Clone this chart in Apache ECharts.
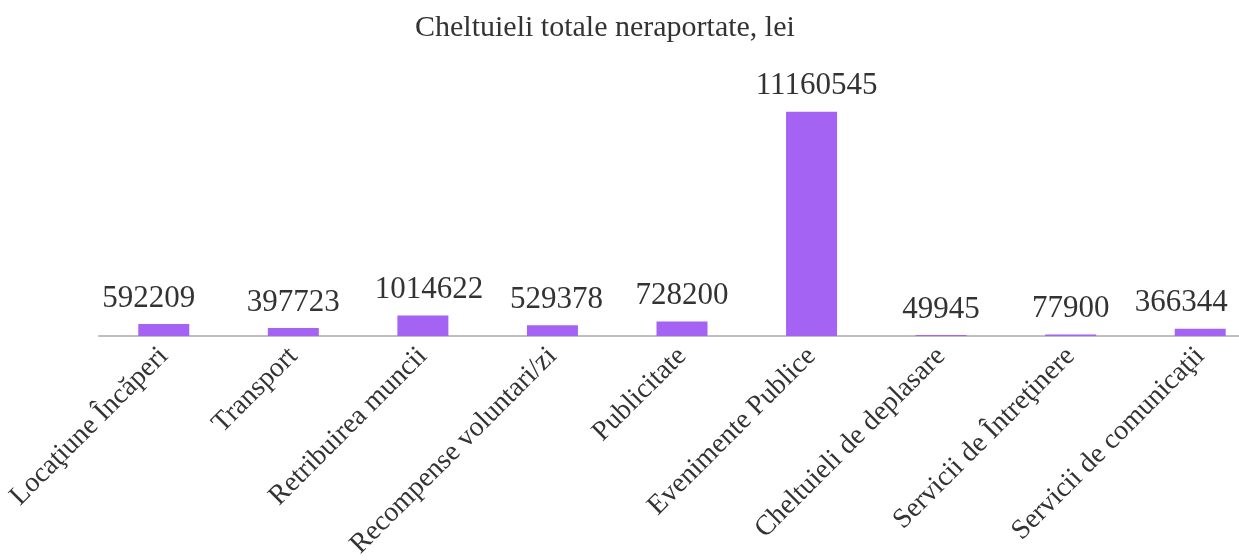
<!DOCTYPE html>
<html><head><meta charset="utf-8">
<script src="https://cdn.jsdelivr.net/npm/echarts@6/dist/echarts.min.js"></script>
<style>html,body{margin:0;padding:0;background:#fff}#c{width:1239px;height:560px}</style>
</head><body><div id="c"></div>
<script>
const title = 'Cheltuieli totale neraportate, lei';
const categories = ['Locaţiune Încăperi','Transport','Retribuirea muncii','Recompense voluntari/zi','Publicitate','Evenimente Publice','Cheltuieli de deplasare','Servicii de Întreţinere','Servicii de comunicaţii'];
const values = [592209, 397723, 1014622, 529378, 728200, 11160545, 49945, 77900, 366344];

const font = '"Liberation Serif", serif';
// label nudges (styling only), as placed in the original chart
const labelNudge = { 0: -15, 2: 6, 3: 4, 5: 5, 8: -19 };
const seriesData = values.map((v, i) => labelNudge[i] !== undefined
  ? { value: v, label: { offset: [labelNudge[i], 0] } }
  : v);

const chart = echarts.init(document.getElementById('c'));
chart.setOption({
  animation: false,
  title: { text: title, left: 410, top: 8, textStyle: { fontFamily: font, fontSize: 30, fontWeight: 'normal', color: '#333' } },
  grid: { left: 99, right: -26, top: 95, bottom: 224, outerBoundsMode: 'none', containLabel: false },
  xAxis: {
    type: 'category', data: categories,
    axisLine: { lineStyle: { color: '#bfbfbf', width: 2 } },
    axisTick: { show: false },
    axisLabel: { rotate: 45, interval: 0, margin: 16, fontFamily: font, fontSize: 28, color: '#333' }
  },
  yAxis: { type: 'value', min: 0, max: 12000000, show: false, splitLine: { show: false } },
  series: [{
    type: 'bar', data: seriesData, barWidth: 51,
    itemStyle: { color: '#a463f2' },
    label: { show: true, position: 'top', distance: 10, fontFamily: font, fontSize: 31, color: '#333' }
  }]
});
</script></body></html>
